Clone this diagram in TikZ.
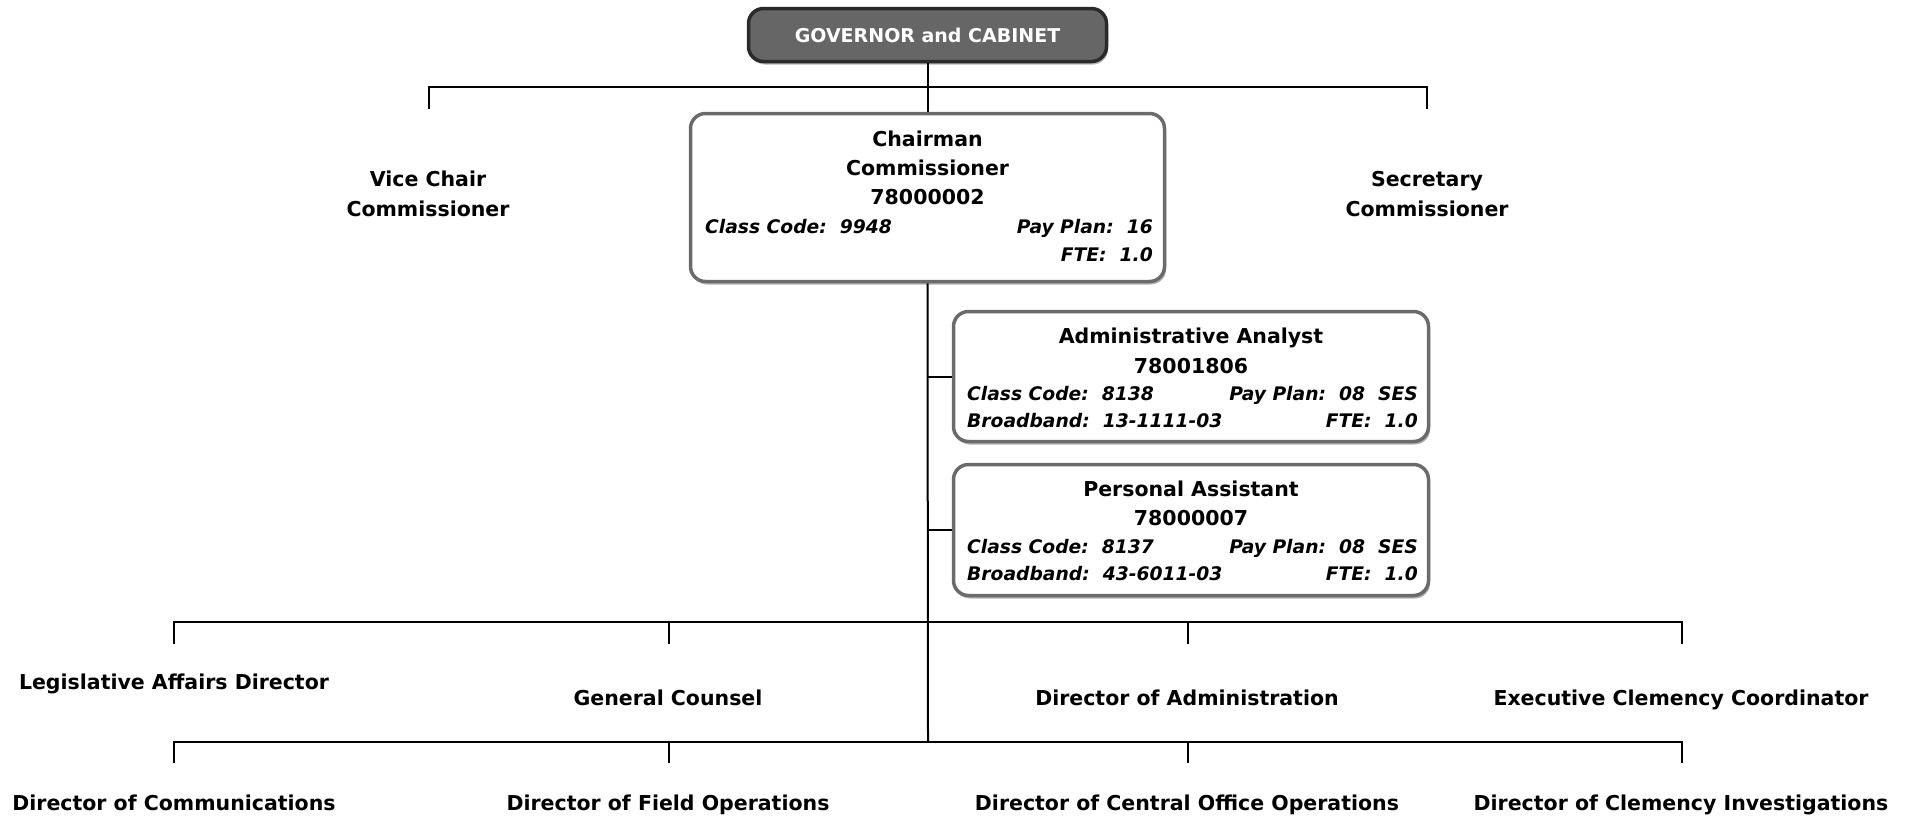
\documentclass[tikz,border=0pt]{standalone}
\usepackage{fontspec}
\setmainfont{DejaVu Sans}
\usetikzlibrary{shadows}
\definecolor{boxgray}{HTML}{6B6B6B}
\definecolor{shadowgray}{HTML}{B4B4B4}
\definecolor{govfill}{HTML}{666666}
\definecolor{govborder}{HTML}{2A2A2A}
\begin{document}
\begin{tikzpicture}[x=1pt,y=-1pt,
  lbl/.style={font=\bfseries\fontsize{20.5}{24}\selectfont, inner sep=0pt, anchor=base},
  ital/.style={font=\bfseries\itshape\fontsize{18.7}{22}\selectfont, inner sep=0pt},
  card/.style={draw=boxgray, line width=3.5pt, rounded corners=15pt, fill=white,
    drop shadow={shadow xshift=1.5pt, shadow yshift=-3pt, fill=shadowgray, opacity=1},
    inner sep=0pt},
  conn/.style={line width=2pt, black}]
\useasboundingbox (0,0) rectangle (1916,817);

% ---- boxes ----
\node[draw=govborder, fill=govfill, line width=3.5pt, rounded corners=15pt,
  drop shadow={shadow xshift=1.5pt, shadow yshift=-3pt, fill=shadowgray, opacity=1},
  minimum width=358pt, minimum height=53pt, inner sep=0pt, text=white,
  font=\bfseries\fontsize{19}{22}\selectfont] (gov) at (927.5,35) {GOVERNOR and CABINET};

\node[card, minimum width=474pt, minimum height=168pt] (chair) at (927.5,197.5) {};
\node[card, minimum width=475pt, minimum height=130pt] (aa) at (1191,376.5) {};
\node[card, minimum width=475pt, minimum height=131pt] (pa) at (1191,530) {};

% ---- connector points ----
\coordinate (busTopL) at (429,109);
\coordinate (busTopR) at (1427,109);
\coordinate (trunkEnd) at (928,742);
\coordinate (u1) at (174,644);
\coordinate (u2) at (669,644);
\coordinate (u3) at (1188,644);
\coordinate (u4) at (1682,644);
\coordinate (l1) at (174,763);
\coordinate (l2) at (669,763);
\coordinate (l3) at (1188,763);
\coordinate (l4) at (1682,763);

% ---- connectors ----
\draw[conn] (busTopL) -- (429,87) -- (1427,87) -- (busTopR);
\draw[conn] (gov.south) -- (chair.north);
\draw[conn] (chair.south) -- (trunkEnd);
\draw[conn] (aa.west -| chair.south) -- (aa.west);
\draw[conn] (pa.west -| chair.south) -- (pa.west);
\draw[conn] (u1) -- (174,622) -- (1682,622) -- (u4);
\draw[conn] (u2) -- (669,622);
\draw[conn] (u3) -- (1188,622);
\draw[conn] (l1) -- (174,742) -- (1682,742) -- (l4);
\draw[conn] (l2) -- (669,742);
\draw[conn] (l3) -- (1188,742);

% ---- chairman text ----
\node[lbl] (c1) at (927.5,146) {Chairman};
\node[lbl] (c2) at (927.5,175) {Commissioner};
\node[lbl] (c3) at (927.5,204) {78000002};
\node[ital, anchor=base west] (c4) at (705,233) {Class Code:\ \ 9948};
\node[ital, anchor=base east] (c5) at (1153,233) {Pay Plan:\ \ 16};
\node[ital, anchor=base east] (c6) at (1153,261) {FTE:\ \ 1.0};

% ---- administrative analyst text ----
\node[lbl] (a1) at (1191,343) {Administrative Analyst};
\node[lbl] (a2) at (1191,373) {78001806};
\node[ital, anchor=base west] (a3) at (967,400) {Class Code:\ \ 8138};
\node[ital, anchor=base east] (a4) at (1418,400) {Pay Plan:\ \ 08\ \ SES};
\node[ital, anchor=base west] (a5) at (967,427) {Broadband:\ \ 13-1111-03};
\node[ital, anchor=base east] (a6) at (1418,427) {FTE:\ \ 1.0};

% ---- personal assistant text ----
\node[lbl] (p1) at (1191,496) {Personal Assistant};
\node[lbl] (p2) at (1191,525) {78000007};
\node[ital, anchor=base west] (p3) at (967,553) {Class Code:\ \ 8137};
\node[ital, anchor=base east] (p4) at (1418,553) {Pay Plan:\ \ 08\ \ SES};
\node[ital, anchor=base west] (p5) at (967,580) {Broadband:\ \ 43-6011-03};
\node[ital, anchor=base east] (p6) at (1418,580) {FTE:\ \ 1.0};

% ---- commissioners ----
\node[lbl] (vc1) at (428,186) {Vice Chair};
\node[lbl] (vc2) at (428,216) {Commissioner};
\node[lbl] (sc1) at (1427,186) {Secretary};
\node[lbl] (sc2) at (1427,216) {Commissioner};

% ---- upper row labels ----
\node[lbl] (lad) at (174,689) {Legislative Affairs Director};
\node[lbl] (gc) at (668,705) {General Counsel};
\node[lbl] (doa) at (1187,705) {Director of Administration};
\node[lbl] (ecc) at (1681,705) {Executive Clemency Coordinator};

% ---- lower row labels ----
\node[lbl] (doc) at (174,810) {Director of Communications};
\node[lbl] (dfo) at (668,810) {Director of Field Operations};
\node[lbl] (dco) at (1187,810) {Director of Central Office Operations};
\node[lbl] (dci) at (1681,810) {Director of Clemency Investigations};
\end{tikzpicture}
\end{document}
